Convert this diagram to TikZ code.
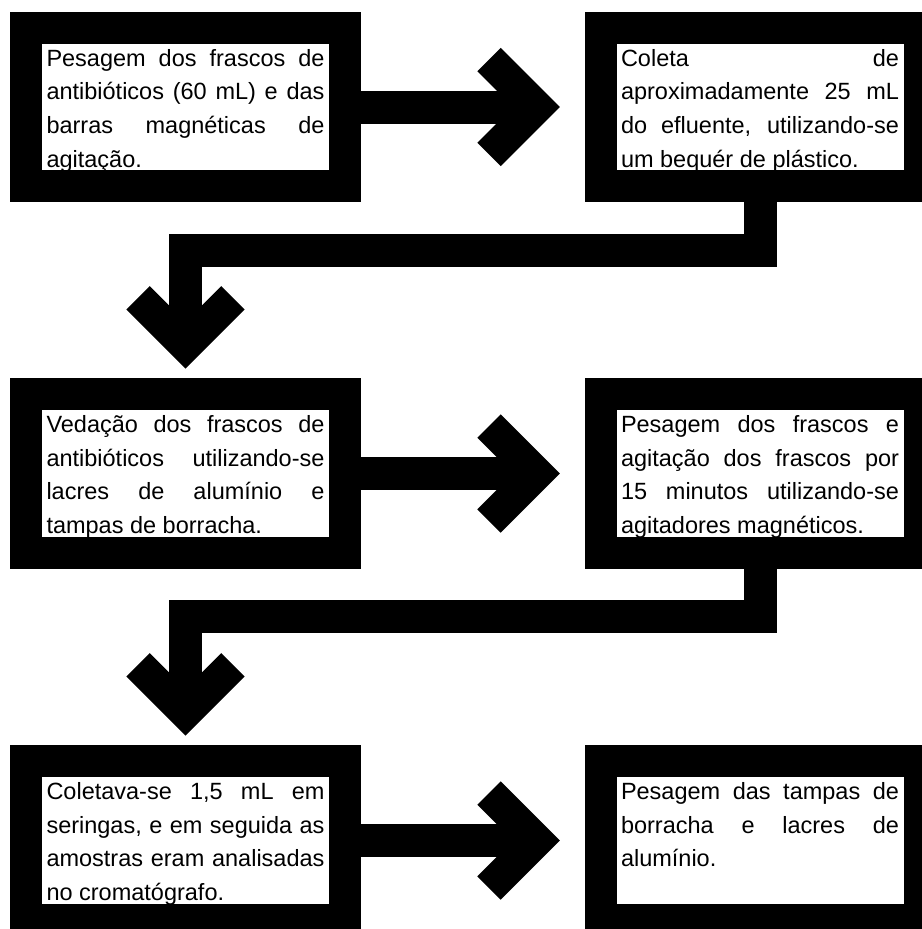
\documentclass[tikz,border=0pt]{standalone}
\usepackage{fontspec}
\setmainfont{Liberation Sans}
\usetikzlibrary{calc}
\tikzstyle{stepbox} = [draw, fill=white, line width=32pt, outer sep=16pt, inner sep=0pt, minimum width=319pt, minimum height=158.5pt]
\tikzstyle{shaft} = [draw, line width=33pt, line join=miter]
\tikzset{chevron/.pic={\draw[line width=33pt, line join=miter] (-47.5,47.5) -- (0,0) -- (-47.5,-47.5);}}
\newcommand{\steptext}[1]{\parbox[c][119pt][t]{278pt}{\fontsize{23.5pt}{33.7pt}\selectfont\tolerance=10000\rule{0pt}{18.5pt}#1}}

\begin{document}
\begin{tikzpicture}[x=1pt, y=1pt]
                %\draw[help lines] (0, 0) grid (921, -929);
                \path[use as bounding box, fill=white] (0, 0) rectangle (921, -929);

                \node[stepbox] (s1) at (185.5, -107) {\steptext{Pesagem dos frascos de\linebreak antibióticos (60 mL) e das\linebreak barras magnéticas de\linebreak agitação.}};
                \node[stepbox] (s2) at (760, -107) {\steptext{Coleta de\linebreak aproximadamente 25 mL\linebreak do efluente, utilizando-se\linebreak um bequér de plástico.}};
                \node[stepbox] (s3) at (185.5, -473.5) {\steptext{Vedação dos frascos de\linebreak antibióticos utilizando-se\linebreak lacres de alumínio e\linebreak tampas de borracha.}};
                \node[stepbox] (s4) at (760, -473.5) {\steptext{Pesagem dos frascos e\linebreak agitação dos frascos por\linebreak 15 minutos utilizando-se\linebreak agitadores magnéticos.}};
                \node[stepbox] (s5) at (185.5, -840.5) {\steptext{Coletava-se 1,5 mL em\linebreak seringas, e em seguida as\linebreak amostras eram analisadas\linebreak no cromatógrafo.}};
                \node[stepbox] (s6) at (760, -840.5) {\steptext{Pesagem das tampas de\linebreak borracha e lacres de\linebreak alumínio.}};

                % across each row
                \foreach \a/\b in {s1/s2, s3/s4, s5/s6} {
                    \coordinate (h\a) at ($(\b.west) + (-48, 0)$);
                    \draw[shaft] (\a.east) -- (h\a);
                    \pic at (h\a) {chevron};
                }

                % down to the next row
                \foreach \a/\b in {s2/s3, s4/s5} {
                    \coordinate (d\a) at ($(\b.north) + (0, 33)$);
                    \draw[shaft] (\a.south) -- ++(0, -48) -| (d\a);
                    \pic[rotate=-90] at (d\a) {chevron};
                }
            \end{tikzpicture}
\end{document}
